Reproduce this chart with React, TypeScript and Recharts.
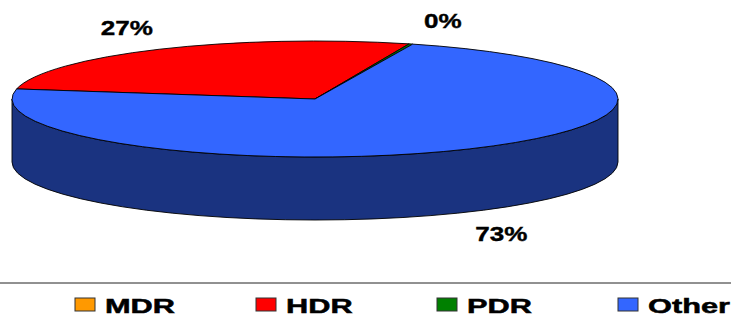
import { PieChart, Pie, Cell, Legend } from "recharts";

const categories = ["MDR", "HDR", "PDR", "Other"];
const shares = [0, 27.25, 0.2, 72.55];
const colors = ["#FF9900", "#FF0000", "#008000", "#3366FF"];

const data = categories.map((name, i) => ({ name, value: shares[i] }));

// 3D look: top face is a squashed circle, front wall hangs below it
const SQUASH = 58 / 303;
const DEPTH = 63;
const RAD = Math.PI / 180;
const FONT = "'Liberation Sans', Arial, sans-serif";

const darken = (hex: string) => {
  const n = parseInt(hex.slice(1), 16);
  const c = [(n >> 16) & 255, (n >> 8) & 255, n & 255].map((v) => Math.round(v * 0.5));
  return `rgb(${c.join(",")})`;
};

const Sector3D = (props: any) => {
  const { cx, cy, outerRadius, startAngle, endAngle, fill } = props;
  if (Math.abs(endAngle - startAngle) < 1e-6) return <g />;
  const rx = outerRadius;
  const ry = outerRadius * SQUASH;
  const pt = (a: number, dy = 0) =>
    `${cx + rx * Math.cos(a * RAD)},${cy - ry * Math.sin(a * RAD) + dy}`;

  const lo = Math.min(startAngle, endAngle);
  const hi = Math.max(startAngle, endAngle);
  const walls: string[] = [];
  for (let k = Math.floor(lo / 360) - 2; k <= Math.ceil(hi / 360) + 1; k++) {
    const a = Math.max(lo, 180 + 360 * k);
    const b = Math.min(hi, 360 + 360 * k);
    if (b > a) {
      walls.push(
        `M${pt(a)} A${rx},${ry} 0 0 0 ${pt(b)} L${pt(b, DEPTH)} A${rx},${ry} 0 0 1 ${pt(a, DEPTH)} Z`
      );
    }
  }

  const large = Math.abs(endAngle - startAngle) > 180 ? 1 : 0;
  const sweep = endAngle < startAngle ? 1 : 0;
  const top = `M${cx},${cy} L${pt(startAngle)} A${rx},${ry} 0 ${large} ${sweep} ${pt(endAngle)} Z`;

  return (
    <g>
      {walls.map((d, i) => (
        <path key={i} d={d} fill={darken(fill)} stroke="#000" strokeWidth={0.9} />
      ))}
      <path d={top} fill={fill} stroke="#000" strokeWidth={0.9} strokeLinejoin="round" />
    </g>
  );
};

const renderLabel = (p: any) => {
  if (!p.value) return null;
  const a = p.midAngle * RAD;
  const s = Math.sin(a);
  const c = Math.cos(a);
  // labels near the top get pushed a little further right, like the original
  const x = p.cx + (p.outerRadius + 63) * c + (s > 0.9 ? 12 : 0);
  const y = p.cy - (p.outerRadius * SQUASH + 25) * s + (s < 0 ? DEPTH : 0) + 7.5;
  return (
    <text
      transform={`translate(${x},${y}) scale(1.24,1)`}
      textAnchor="middle"
      fontFamily={FONT}
      fontWeight="bold"
      fontSize={21}
      fill="#000"
      stroke="#000"
      strokeWidth={0.4}
    >
      {`${Math.round(p.percent * 100)}%`}
    </text>
  );
};

const LegendContent = ({ payload }: any) => {
  const items = categories.map((name, i) => {
    const entry = (payload ?? []).find((e: any) => e.value === name);
    return { name, color: entry?.color ?? colors[i] };
  });
  return (
    <svg width={731} height={47} style={{ display: "block" }}>
      <line x1={0} x2={731} y1={13} y2={13} stroke="#222" strokeWidth={1} />
      {items.map((item, i) => {
        const x = 75 + i * 181;
        return (
          <g key={item.name}>
            <rect x={x} y={28} width={20} height={13} fill={item.color} stroke="#333" strokeWidth={1} />
            <text
              transform={`translate(${x + 30},42.7) scale(1.5,1)`}
              fontFamily={FONT}
              fontWeight="bold"
              fontSize={20.5}
              fill="#000"
              stroke="#000"
              strokeWidth={0.5}
            >
              {item.name}
            </text>
          </g>
        );
      })}
    </svg>
  );
};

export default function App() {
  return (
    <div style={{ position: "absolute", left: 0, top: 0, background: "#fff" }}>
      <PieChart width={731} height={317} margin={{ top: 0, right: 0, bottom: 0, left: 0 }}>
        <Pie
          data={data}
          dataKey="value"
          nameKey="name"
          cx={315}
          cy={99}
          outerRadius={303}
          startAngle={170}
          endAngle={-190}
          shape={Sector3D}
          activeShape={Sector3D}
          inactiveShape={Sector3D}
          label={renderLabel}
          labelLine={false}
          isAnimationActive={false}
        >
          {data.map((d, i) => (
            <Cell key={d.name} fill={colors[i]} />
          ))}
        </Pie>
        <Legend
          verticalAlign="bottom"
          content={<LegendContent />}
          wrapperStyle={{ position: "absolute", left: 0, top: 270, width: 731, height: 47 }}
        />
      </PieChart>
    </div>
  );
}
